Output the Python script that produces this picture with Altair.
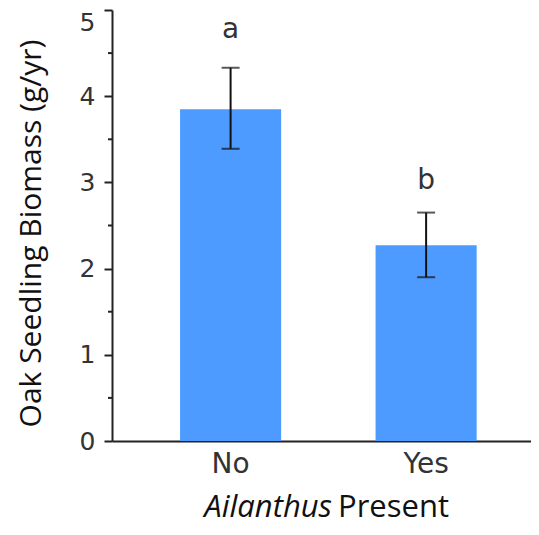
import altair as alt
import pandas as pd

groups = ["No", "Yes"]
means = [3.85, 2.27]
upper = [4.33, 2.65]
lower = [3.39, 1.90]
letters = ["a", "b"]
letter_y = [4.68, 2.92]
y_major = [0, 1, 2, 3, 4, 5]
y_minor = [0.5, 1.5, 2.5, 3.5, 4.5]

df = pd.DataFrame({"group": groups, "mean": means, "upper": upper,
                   "lower": lower, "letter": letters, "ly": letter_y})

AX = "#222222"
xscale = alt.Scale(domain=groups, paddingInner=0.483, paddingOuter=0.313, align=0.556)
yscale = alt.Scale(domain=[0, 5], nice=False)

xaxis = alt.Axis(title=None, labelAngle=0, domainColor=AX, domainWidth=2, ticks=False,
                 labelFont="DejaVu Sans", labelFontSize=28, labelColor="#333333",
                 labelPadding=9, grid=False)
yaxis = alt.Axis(values=y_major, format="d", grid=False, domainColor=AX, domainWidth=2,
                 tickColor=AX, tickWidth=2, tickSize=8,
                 labelBaseline={"condition": {"test": "datum.value == 5", "value": "top"},
                                "value": "middle"},
                 labelOverlap=False, labelFont="DejaVu Sans", labelFontSize=25,
                 labelColor="#333333", labelPadding=9,
                 title="Oak Seedling Biomass (g/yr)", titleFont="Open Sans",
                 titleFontSize=30, titleFontWeight="normal", titleColor="#111111",
                 titleAngle=270, titleX=-72, titleY=223, titleAlign="center",
                 titleBaseline="alphabetic")

base = alt.Chart(df)

bars = base.mark_bar(color="#4d9bff").encode(
    x=alt.X("group:N", scale=xscale, axis=xaxis),
    y=alt.Y("mean:Q", scale=yscale, axis=yaxis),
)
minor = alt.Chart(pd.DataFrame({"v": y_minor})).mark_rule(color=AX, strokeWidth=2).encode(
    x=alt.value(-4), x2=alt.value(0),
    y=alt.Y("v:Q", scale=yscale),
)
rules = base.mark_rule(color="#111111", strokeWidth=2).encode(
    x=alt.X("group:N", scale=xscale),
    y=alt.Y("lower:Q", scale=yscale),
    y2="upper:Q",
)
cap_hi = base.mark_tick(color="#111111", thickness=2, size=18).encode(
    x=alt.X("group:N", scale=xscale),
    y=alt.Y("upper:Q", scale=yscale),
)
cap_lo = base.mark_tick(color="#111111", thickness=2, size=18).encode(
    x=alt.X("group:N", scale=xscale),
    y=alt.Y("lower:Q", scale=yscale),
)
labels = base.mark_text(font="DejaVu Sans", fontSize=28, baseline="alphabetic",
                        color="#333333").encode(
    x=alt.X("group:N", scale=xscale),
    y=alt.Y("ly:Q", scale=yscale),
    text="letter:N",
)

t1 = alt.Chart(pd.DataFrame({"t": ["Ailanthus"]})).mark_text(
    font="Open Sans", fontSize=31, fontStyle="italic", align="right",
    baseline="alphabetic", color="#111111").encode(
    x=alt.value(220), y=alt.value(507), text="t:N")
t2 = alt.Chart(pd.DataFrame({"t": ["Present"]})).mark_text(
    font="Open Sans", fontSize=31, align="left",
    baseline="alphabetic", color="#111111").encode(
    x=alt.value(226), y=alt.value(507), text="t:N")

chart = alt.layer(bars, minor, rules, cap_hi, cap_lo, labels, t1, t2).properties(
    width=419, height=431,
    autosize=alt.AutoSizeParams(type="none"),
    padding={"left": 104, "top": 2, "right": 0, "bottom": 84},
).configure_view(strokeWidth=0)

chart.save("out.html", embed_options={"renderer": "svg", "actions": False})
